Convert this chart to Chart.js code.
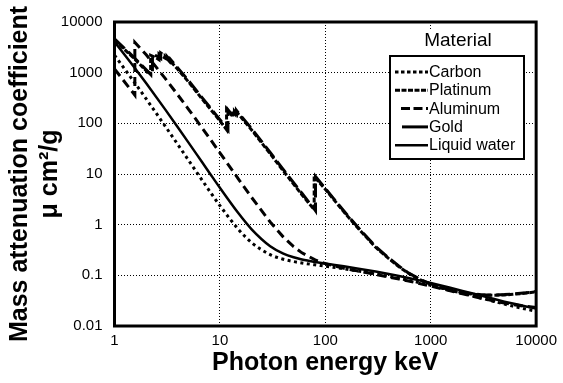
<!DOCTYPE html>
<html><head><meta charset="utf-8">
<script src="https://cdn.jsdelivr.net/npm/chart.js@4.4.1/dist/chart.umd.min.js"></script>
<style>html,body{margin:0;padding:0;background:#fff;}canvas{display:block;}</style>
</head><body>
<canvas id="c" width="563" height="383"></canvas>
<script>
const xTickValues = [1, 10, 100, 1000, 10000];
const xTickLabels = ['1', '10', '100', '1000', '10000'];
const yTickValues = [0.01, 0.1, 1, 10, 100, 1000, 10000];
const yTickLabels = ['0.01', '0.1', '1', '10', '100', '1000', '10000'];
const seriesNames = ['Carbon', 'Platinum', 'Aluminum', 'Gold', 'Liquid water'];
const legendTitle = 'Material';
const xTitle = 'Photon energy keV';
const yTitle = ['Mass attenuation coefficient', 'μ cm²/g'];

const carbonE = [1,1.5,2,3,4,5,6,8,10,15,20,30,40,50,60,80,100,150,200,300,400,500,600,800,1000,1250,1500,2000,3000,4000,5000,6000,8000,10000];
const carbonMu = [2211,700.2,302.6,90.33,37.78,19.12,10.95,4.576,2.373,0.8071,0.442,0.2562,0.2076,0.1871,0.1753,0.161,0.1514,0.1347,0.1229,0.1066,0.09546,0.08715,0.08058,0.07076,0.06361,0.0569,0.05179,0.04442,0.03562,0.03047,0.02708,0.02469,0.02154,0.01959];

const waterE = [1,1.5,2,3,4,5,6,8,10,15,20,30,40,50,60,80,100,150,200,300,400,500,600,800,1000,1250,1500,2000,3000,4000,5000,6000,8000,10000];
const waterMu = [4078,1376,617.3,192.9,82.78,42.58,24.64,10.37,5.329,1.673,0.8096,0.3756,0.2683,0.2269,0.2059,0.1837,0.1707,0.1505,0.137,0.1186,0.1061,0.09687,0.08956,0.07865,0.07072,0.06323,0.05754,0.04942,0.03969,0.03403,0.03031,0.0277,0.02429,0.02219];

const aluminumE = [1,1.5,1.5596,1.5596,2,3,4,5,6,8,10,15,20,30,40,50,60,80,100,150,200,300,400,500,600,800,1000,1250,1500,2000,3000,4000,5000,6000,8000,10000];
const aluminumMu = [1185,402.2,362.1,3957,2263,788,360.5,193.4,115.3,50.33,26.23,7.955,3.441,1.128,0.5685,0.3681,0.2778,0.2018,0.1704,0.1378,0.1223,0.1042,0.09276,0.08445,0.07802,0.06841,0.06146,0.05496,0.05006,0.04324,0.03541,0.03106,0.02836,0.02655,0.02437,0.02318];

const goldE = [1,1.5,2,2.206,2.206,2.291,2.291,2.5,2.743,2.743,3,3.148,3.148,3.425,3.425,4,5,6,8,10,11.919,11.919,13.734,13.734,14.353,14.353,15,20,30,40,50,60,80,80.725,80.725,100,150,200,300,400,500,600,800,1000,1250,1500,2000,3000,4000,5000,6000,8000,10000];
const goldMu = [4652,2089,1137,920,1000,960,2250,2150,1900,2450,2150,1950,2080,1700,1790,1230,710,440,210,118,74,186,129,172,153,180,160,78.8,26.6,12.2,6.72,4.16,1.93,1.88,8.9,5.16,1.86,0.928,0.371,0.22,0.152,0.115,0.0826,0.068,0.0579,0.0517,0.0452,0.0415,0.041,0.0417,0.0427,0.0452,0.0479];

const platinumE = [1,1.5,2,2.122,2.122,2.202,2.202,2.5,2.645,2.645,3,3.027,3.027,3.296,3.296,4,5,6,8,10,11.564,11.564,13.273,13.273,13.88,13.88,15,20,30,40,50,60,78.395,78.395,80,100,150,200,300,400,500,600,800,1000,1250,1500,2000,3000,4000,5000,6000,8000,10000];
const platinumMu = [4400,1990,1090,930,1010,960,2200,1950,1800,2350,1950,1930,2070,1700,1800,1150,670,415,198,112,75,192,134,175,155,184,152,74,25,11.5,6.3,3.9,1.98,9.0,8.5,4.99,1.79,0.895,0.358,0.213,0.148,0.113,0.081,0.0668,0.0568,0.0508,0.0445,0.0409,0.0404,0.0411,0.0421,0.0446,0.0472];

const FONT = 'Arial, "Liberation Sans", sans-serif';
function pts(xs, ys) { return xs.map((x, i) => ({x: x, y: ys[i]})); }

const boxLegend = {
  id: 'boxLegend',
  afterDatasetsDraw(chart) {
    const {ctx, chartArea: a} = chart;
    ctx.save();
    ctx.setLineDash([]);
    ctx.strokeStyle = '#000';
    ctx.lineWidth = 3;
    ctx.strokeRect(a.left, a.top, a.right - a.left, a.bottom - a.top);
    ctx.restore();
  },
  afterDraw(chart) {
    const ctx = chart.ctx;
    ctx.save();
    ctx.fillStyle = '#fff';
    ctx.fillRect(418, 31, 80, 22);
    ctx.fillStyle = '#000';
    ctx.font = '19px ' + FONT;
    ctx.textAlign = 'center';
    ctx.textBaseline = 'middle';
    ctx.fillText(legendTitle, 458, 41);
    ctx.fillStyle = '#fff';
    ctx.fillRect(390, 56, 134, 103);
    ctx.lineWidth = 2;
    ctx.strokeStyle = '#000';
    ctx.strokeRect(390, 56, 134, 103);
    chart.data.datasets.forEach((ds, i) => {
      const y = 72 + i * 18.3;
      ctx.setLineDash(ds.legendDash);
      ctx.lineWidth = ds.borderWidth;
      ctx.beginPath();
      ctx.moveTo(ds.legendStart, y);
      ctx.lineTo(428, y);
      ctx.stroke();
      ctx.setLineDash([]);
      ctx.fillStyle = '#000';
      ctx.font = '16px ' + FONT;
      ctx.textAlign = 'left';
      ctx.fillText(ds.label, 429, y + 0.5);
    });
    ctx.restore();
  }
};

const common = {borderColor: '#000', backgroundColor: '#000', pointRadius: 0, tension: 0, fill: false, borderCapStyle: 'butt'};

new Chart(document.getElementById('c'), {
  type: 'line',
  data: {
    datasets: [
      Object.assign({label: seriesNames[0], data: pts(carbonE, carbonMu), borderWidth: 3, borderDash: [3, 3.5], legendDash: [3.5, 2.5], legendStart: 395}, common, {cubicInterpolationMode: 'monotone'}),
      Object.assign({label: seriesNames[1], data: pts(platinumE, platinumMu), borderWidth: 3, borderDash: [5, 2], legendDash: [5, 1.5], legendStart: 395}, common),
      Object.assign({label: seriesNames[2], data: pts(aluminumE, aluminumMu), borderWidth: 3, borderDash: [9, 5], legendDash: [9, 3.5], legendStart: 401}, common),
      Object.assign({label: seriesNames[3], data: pts(goldE, goldMu), borderWidth: 3, borderDash: [14, 5], legendDash: [], legendStart: 402}, common),
      Object.assign({label: seriesNames[4], data: pts(waterE, waterMu), borderWidth: 2.5, borderDash: [], legendDash: [], legendStart: 395}, common, {cubicInterpolationMode: 'monotone'})
    ]
  },
  options: {
    responsive: false,
    animation: false,
    devicePixelRatio: 1,
    layout: {padding: {left: 0, top: 22, right: 24.5, bottom: 0}},
    plugins: {legend: {display: false}, tooltip: {enabled: false}},
    scales: {
      x: {
        type: 'logarithmic', min: 1, max: 10000,
        afterBuildTicks: s => { s.ticks = xTickValues.map(v => ({value: v})); },
        afterFit: s => { s.height = 57; },
        ticks: {callback: (v, i) => xTickLabels[i], autoSkip: false, maxRotation: 0, font: {size: 15, family: FONT}, color: '#000', padding: 6},
        grid: {color: '#000', lineWidth: 1, drawTicks: false},
        border: {display: false, dash: [1, 2]},
        title: {display: true, text: xTitle, color: '#000', font: {size: 25, weight: 'bold', family: FONT, lineHeight: 1.2}, padding: {top: 0, bottom: 5}}
      },
      y: {
        type: 'logarithmic', min: 0.01, max: 10000,
        afterBuildTicks: s => { s.ticks = yTickValues.map(v => ({value: v})); },
        afterFit: s => { s.width = 114.5; },
        ticks: {callback: (v, i) => yTickLabels[i], autoSkip: false, font: {size: 15, family: FONT}, color: '#000', padding: 12},
        grid: {color: '#000', lineWidth: 1, drawTicks: false},
        border: {display: false, dash: [1, 2]},
        title: {display: true, text: yTitle, color: '#000', font: {size: 25, weight: 'bold', family: FONT, lineHeight: 1.2}, padding: {top: 5, bottom: 0}}
      }
    }
  },
  plugins: [boxLegend]
});
</script>
</body></html>
